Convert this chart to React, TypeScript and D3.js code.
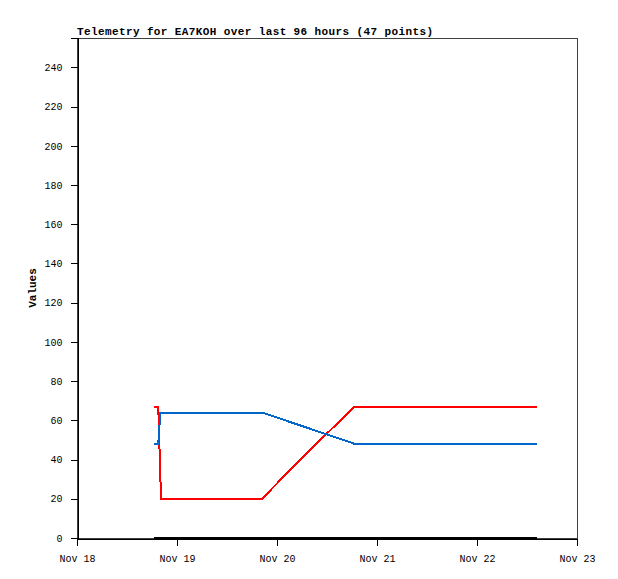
import React, { useEffect, useRef } from "react";
import * as d3 from "d3";

// telemetry samples (UTC) and channel values
const redTimes = [
  "2024-11-18T18:28Z",
  "2024-11-18T19:30Z",
  "2024-11-18T20:10Z",
  "2024-11-19T20:25Z",
  "2024-11-20T07:25Z",
  "2024-11-20T18:40Z",
  "2024-11-22T14:25Z",
];
const redValues = [67, 67, 20, 20, 44, 67, 67];

const blueTimes = [
  "2024-11-18T18:28Z",
  "2024-11-18T19:30Z",
  "2024-11-18T20:00Z",
  "2024-11-19T20:25Z",
  "2024-11-20T18:40Z",
  "2024-11-22T14:25Z",
];
const blueValues = [48, 48, 64, 64, 48, 48];

const zeroTimes = ["2024-11-18T18:28Z", "2024-11-22T14:25Z"];
const zeroValues = [0, 0];

const yTicks = [0, 20, 40, 60, 80, 100, 120, 140, 160, 180, 200, 220, 240];
const xStart = "2024-11-18T00:00Z";
const xEnd = "2024-11-23T00:00Z";

const title = "Telemetry for EA7KOH over last 96 hours (47 points)";

const App: React.FC = () => {
  const svgRef = useRef<SVGSVGElement | null>(null);

  useEffect(() => {
    const width = 618;
    const height = 579;
    const margin = { left: 77, right: 41, top: 38, bottom: 41 };

    const svg = d3.select(svgRef.current);
    svg.selectAll("*").remove();
    svg.attr("width", width).attr("height", height);

    const x = d3
      .scaleUtc()
      .domain([new Date(xStart), new Date(xEnd)])
      .range([margin.left, width - margin.right]);
    const y = d3
      .scaleLinear()
      .domain([0, 255])
      .range([height - margin.bottom, margin.top]);

    const font = "'Liberation Mono', 'DejaVu Sans Mono', monospace";

    // frame
    svg
      .append("rect")
      .attr("x", margin.left + 0.5)
      .attr("y", margin.top + 0.5)
      .attr("width", width - margin.left - margin.right)
      .attr("height", height - margin.top - margin.bottom)
      .attr("fill", "none")
      .attr("stroke", "#404040")
      .attr("stroke-width", 1)
      .attr("shape-rendering", "crispEdges");

    // series
    const line = d3
      .line<[Date, number]>()
      .x((d) => x(d[0]))
      .y((d) => y(d[1]));

    const series = [
      { times: zeroTimes, values: zeroValues, color: "#000000" },
      { times: redTimes, values: redValues, color: "#ff0000" },
      { times: blueTimes, values: blueValues, color: "#0066cc" },
    ];

    series.forEach((s) => {
      const pts: [Date, number][] = s.times.map((t, i) => [new Date(t), s.values[i]]);
      svg
        .append("path")
        .attr("d", line(pts) as string)
        .attr("fill", "none")
        .attr("stroke", s.color)
        .attr("stroke-width", 2)
        .attr("shape-rendering", "crispEdges");
    });

    // y axis
    const yAxis = svg
      .append("g")
      .attr("transform", `translate(${margin.left + 0.5},0)`)
      .call(d3.axisLeft(y).tickValues(yTicks).tickSize(7).tickPadding(8));
    yAxis.select(".domain").attr("stroke", "#000").attr("shape-rendering", "crispEdges");
    yAxis.selectAll(".tick line").attr("stroke", "#000").attr("shape-rendering", "crispEdges");
    yAxis
      .selectAll(".tick text")
      .attr("font-family", font)
      .attr("font-size", 10)
      .attr("fill", "#000");

    // x axis
    const xAxis = svg
      .append("g")
      .attr("transform", `translate(0,${height - margin.bottom + 0.5})`)
      .call(
        d3
          .axisBottom(x)
          .ticks(d3.utcDay.every(1))
          .tickFormat((d) => d3.utcFormat("%b %d")(d as Date))
          .tickSize(7)
          .tickPadding(9)
      );
    xAxis.select(".domain").attr("stroke", "#000").attr("shape-rendering", "crispEdges");
    xAxis.selectAll(".tick line").attr("stroke", "#000").attr("shape-rendering", "crispEdges");
    xAxis
      .selectAll(".tick text")
      .attr("font-family", font)
      .attr("font-size", 10)
      .attr("fill", "#000");

    // title
    svg
      .append("text")
      .attr("x", margin.left)
      .attr("y", 35)
      .attr("font-family", font)
      .attr("font-weight", "bold")
      .attr("font-size", 11)
      .attr("textLength", 356)
      .attr("lengthAdjust", "spacing")
      .text(title);

    // y label
    svg
      .append("text")
      .attr("transform", `translate(36,${(margin.top + height - margin.bottom) / 2}) rotate(-90)`)
      .attr("text-anchor", "middle")
      .attr("font-family", font)
      .attr("font-weight", "bold")
      .attr("font-size", 11)
      .text("Values");
  }, []);

  return (
    <svg
      ref={svgRef}
      style={{ position: "absolute", left: 0, top: 0, background: "#fff" }}
    ></svg>
  );
};

export default App;
